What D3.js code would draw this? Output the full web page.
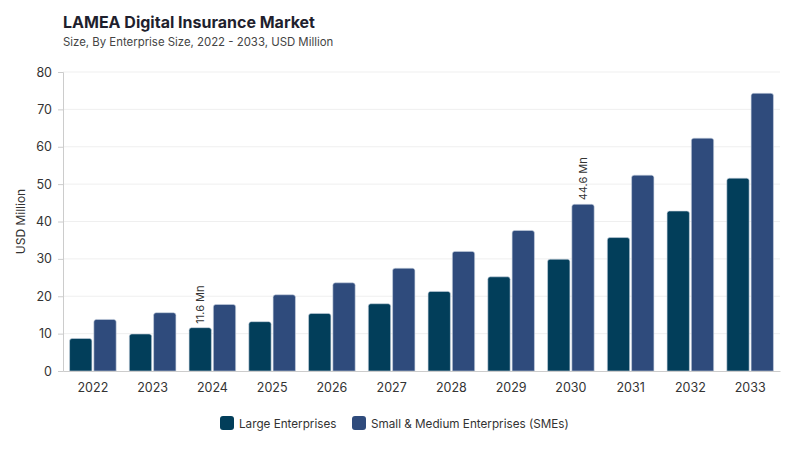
<!DOCTYPE html>
<html><head><meta charset="utf-8">
<script src="https://cdn.jsdelivr.net/npm/d3@7"></script>
<style>body{margin:0;background:#fff;font-family:Inter, "Open Sans", sans-serif;}</style>
</head><body><svg id="c" width="800" height="450"></svg>
<script>
const years = ["2022","2023","2024","2025","2026","2027","2028","2029","2030","2031","2032","2033"];
const largeEnterprises = [8.7, 9.9, 11.6, 13.2, 15.4, 18.0, 21.3, 25.2, 29.9, 35.7, 42.8, 51.6];
const smes = [13.8, 15.6, 17.8, 20.4, 23.6, 27.5, 32.0, 37.6, 44.6, 52.4, 62.3, 74.3];
const seriesNames = ["Large Enterprises", "Small & Medium Enterprises (SMEs)"];
const yTicks = [0,10,20,30,40,50,60,70,80];
const annotations = [{year:"2024", series:0, text:"11.6 Mn"}, {year:"2030", series:1, text:"44.6 Mn"}];
const colors = ["#023e5a", "#2f4b7c"];

const svg = d3.select("#c");
const m = {l:63, r:20, t:72, b:79};
const W = 800, H = 450;
const x0 = d3.scaleBand().domain(years).range([m.l, W - m.r]).paddingInner(0.22).paddingOuter(0.11);
const x1 = d3.scaleBand().domain([0,1]).range([0, x0.bandwidth()]).paddingInner(0.08);
const y = d3.scaleLinear().domain([0,80]).range([H - m.b, m.t]);

svg.append("text").attr("x",63).attr("y",28).attr("font-size",16).attr("font-weight",700).attr("fill","#1f1f2e").text("LAMEA Digital Insurance Market");
svg.append("text").attr("x",63).attr("y",46).attr("font-size",11.4).attr("fill","#444").text("Size, By Enterprise Size, 2022 - 2033, USD Million");

// grid
svg.append("g").selectAll("line").data(yTicks.filter(d=>d>0)).join("line")
  .attr("x1", m.l).attr("x2", W - m.r).attr("y1", d=>y(d)).attr("y2", d=>y(d))
  .attr("stroke","#efefef").attr("stroke-width",1);

const ya = svg.append("g").attr("transform",`translate(${m.l},0)`)
  .call(d3.axisLeft(y).tickValues(yTicks).tickSize(5).tickPadding(6));
ya.select(".domain").attr("stroke","#ccc");
ya.selectAll(".tick line").attr("stroke","#ccc");
ya.selectAll("text").attr("font-size",12.5).attr("fill","#333").attr("font-family","Inter, sans-serif");

svg.append("text").attr("transform",`translate(25,${(m.t + H - m.b)/2}) rotate(-90)`)
  .attr("text-anchor","middle").attr("font-size",12).attr("fill","#333").text("USD Million");

const series = [largeEnterprises, smes];
const g = svg.append("g");
years.forEach((yr,i)=>{
  series.forEach((s,k)=>{
    const bx = x0(yr) + x1(k), bw = x1.bandwidth(), top = y(s[i]), base = y(0), r = 2.5;
    g.append("path")
      .attr("d",`M${bx},${base}V${top+r}Q${bx},${top} ${bx+r},${top}H${bx+bw-r}Q${bx+bw},${top} ${bx+bw},${top+r}V${base}Z`)
      .attr("fill", colors[k]).attr("stroke","#c9d3e0").attr("stroke-width",0.6);
  });
});

const xa = svg.append("g").attr("transform",`translate(0,${y(0)})`)
  .call(d3.axisBottom(x0).tickSize(0).tickPadding(12));
xa.select(".domain").attr("stroke","#ccc");
xa.selectAll("text").attr("font-size",12.5).attr("fill","#333").attr("font-family","Inter, sans-serif");

annotations.forEach(a=>{
  const i = years.indexOf(a.year);
  const v = series[a.series][i];
  const cx = x0(a.year) + x1(a.series) + x1.bandwidth()/2;
  svg.append("text").attr("transform",`translate(${cx+4},${y(v)-4}) rotate(-90)`)
    .attr("font-size",11).attr("fill","#333").text(a.text);
});

// legend
const leg = svg.append("g").attr("transform","translate(220,416)");
const lx = [0, 132];
seriesNames.forEach((n,k)=>{
  leg.append("rect").attr("x",lx[k]).attr("y",0).attr("width",14).attr("height",14).attr("rx",3).attr("fill",colors[k]);
  leg.append("text").attr("x",lx[k]+19).attr("y",11.5).attr("font-size",11.7).attr("fill","#333").text(n);
});
</script></body></html>
